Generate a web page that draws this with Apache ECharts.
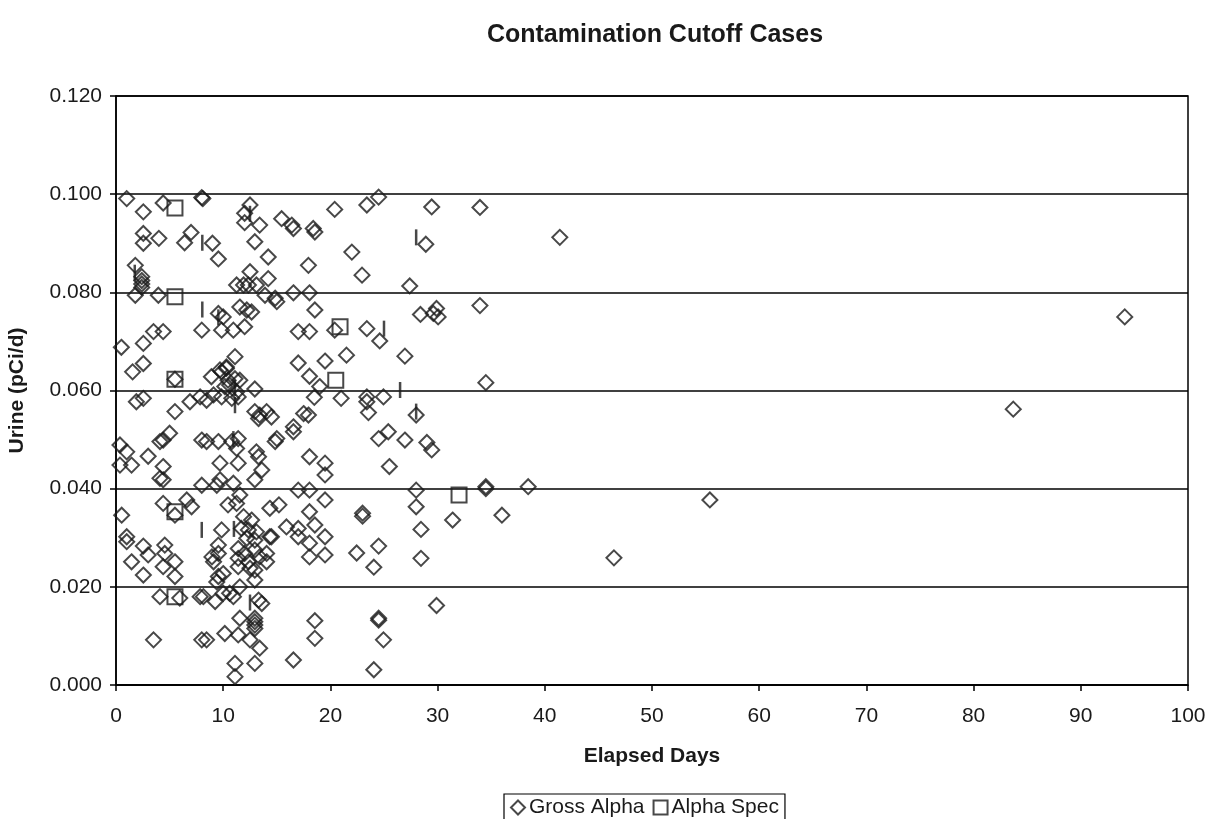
<!DOCTYPE html>
<html>
<head>
<meta charset="utf-8">
<script src="https://cdn.jsdelivr.net/npm/echarts@6/dist/echarts.min.js"></script>
<style>
html,body{margin:0;padding:0;background:#fff;}
#chart{width:1205px;height:819px;}
</style>
</head>
<body>
<div id="chart"></div>
<script>
// ---- data ----
const xTicks = [0,10,20,30,40,50,60,70,80,90,100];
const yTicks = [0.000,0.020,0.040,0.060,0.080,0.100,0.120];

const grossAlpha = [
[1.0,0.0991],[2.55,0.0964],[4.4,0.0982],[8.0,0.0993],[8.1,0.0991],[12.5,0.0978],[12.0,0.0961],[12.0,0.0942],[13.4,0.0937],
[2.55,0.0920],[2.55,0.0900],[4.0,0.0910],[7.0,0.0922],[6.4,0.0901],[9.0,0.0900],[9.55,0.0868],[12.95,0.0903],[14.2,0.0872],
[1.8,0.0855],[2.4,0.0832],[2.4,0.0824],[2.4,0.0817],[2.4,0.0810],[1.8,0.0794],[3.95,0.0794],[12.5,0.0842],[14.2,0.0828],
[11.25,0.0815],[11.9,0.0815],[12.35,0.0815],[13.1,0.0815],[13.9,0.0794],[14.85,0.0788],[11.55,0.0770],[12.2,0.0764],[12.65,0.0760],
[9.55,0.0757],[10.0,0.0750],[3.5,0.0720],[4.4,0.0720],[2.55,0.0696],[0.5,0.0688],[8.0,0.0723],[9.85,0.0723],[10.95,0.0723],[12.0,0.0730],
[2.55,0.0655],[1.55,0.0638],[5.5,0.0623],[8.9,0.0628],[9.85,0.0638],[10.3,0.0648],[11.1,0.0669],
[9.7,0.0642],[10.3,0.0645],[10.45,0.0621],[11.1,0.0624],[11.55,0.0621],[10.15,0.0608],[10.6,0.0611],[11.25,0.0597],[11.4,0.0587],[9.85,0.0587],[10.8,0.0584],
[12.95,0.0603],[1.9,0.0577],[2.55,0.0584],[5.5,0.0557],[6.9,0.0577],[7.85,0.0587],[8.45,0.0580],[9.1,0.0591],
[12.95,0.0557],[13.4,0.0550],[14.05,0.0557],[14.5,0.0546],[13.3,0.0543],
[0.37,0.0489],[1.0,0.0475],[0.37,0.0448],[1.45,0.0448],[3.0,0.0466],[4.1,0.0496],[4.4,0.0499],[5.0,0.0513],[4.4,0.0445],[4.1,0.0421],[4.4,0.0418],
[8.0,0.0499],[8.45,0.0496],[9.55,0.0496],[10.8,0.0496],[11.4,0.0502],[11.25,0.0482],[13.1,0.0475],[14.85,0.0496],[9.7,0.0452],[11.4,0.0452],
[13.3,0.0465],[13.6,0.0438],[12.95,0.0418],[9.7,0.0418],[10.95,0.0411],[8.0,0.0407],[9.4,0.0407],[11.55,0.0387],
[4.4,0.0370],[6.6,0.0377],[7.05,0.0363],[5.5,0.0346],[0.53,0.0346],[10.45,0.0367],[11.25,0.0370],[14.35,0.0360],[15.2,0.0367],
[1.0,0.0302],[1.0,0.0292],[1.45,0.0251],[2.55,0.0283],[3.0,0.0265],[2.55,0.0224],[4.55,0.0285],[4.55,0.0268],[4.4,0.0241],[5.5,0.0251],[5.5,0.0221],
[9.85,0.0316],[11.9,0.0343],[12.65,0.0336],[11.7,0.0319],[12.35,0.0316],[13.1,0.0312],[12.2,0.0299],[12.95,0.0295],[14.35,0.0302],
[9.55,0.0285],[9.55,0.0268],[8.95,0.0261],[9.1,0.0251],
[11.4,0.0278],[11.4,0.0258],[12.0,0.0268],[12.95,0.0275],[13.4,0.0261],[14.05,0.0268],[14.05,0.0251],[12.35,0.0251],[12.5,0.0238],[12.95,0.0234],[11.4,0.0241],
[9.55,0.0221],[10.0,0.0227],[9.4,0.0210],[12.95,0.0214],[10.6,0.0187],[11.55,0.0200],[9.25,0.0170],[13.3,0.0173],[13.6,0.0166],
[4.1,0.0180],[5.95,0.0177],[7.85,0.0180],[8.15,0.0180],[10.0,0.0187],[10.95,0.0180],
[12.95,0.0136],[12.95,0.0129],[12.95,0.0122],[12.95,0.0115],[11.55,0.0136],[3.5,0.0092],[8.0,0.0092],[8.45,0.0092],[10.15,0.0105],[11.4,0.0102],
[12.5,0.0092],[13.4,0.0075],[11.1,0.0044],[11.1,0.0017],[12.95,0.0044],
[15.45,0.0950],[16.4,0.0937],[16.55,0.0930],[18.4,0.0930],[18.55,0.0923],[20.4,0.0969],[23.4,0.0978],[24.5,0.0994],[29.45,0.0974],
[17.95,0.0855],[22.0,0.0882],[22.95,0.0835],[28.9,0.0898],[27.4,0.0813],[16.55,0.0799],[18.05,0.0799],[15.0,0.0781],[18.55,0.0764],
[17.0,0.0720],[18.05,0.0720],[20.4,0.0723],[23.4,0.0726],[24.6,0.0701],[28.4,0.0755],[29.6,0.0757],[29.9,0.0767],[30.05,0.0750],
[33.95,0.0973],[33.95,0.0773],[41.4,0.0912],
[17.0,0.0656],[19.5,0.0660],[21.5,0.0672],[26.95,0.0670],[18.05,0.0629],[19.0,0.0608],[18.5,0.0586],[21.0,0.0584],[23.4,0.0587],[23.4,0.0577],
[24.95,0.0587],[23.55,0.0555],[28.0,0.0550],[34.5,0.0616],[17.5,0.0553],[17.95,0.0550],[16.55,0.0526],[16.55,0.0516],[15.0,0.0502],
[25.4,0.0516],[24.5,0.0502],[26.95,0.0499],[29.0,0.0494],[29.45,0.0479],[18.05,0.0465],[19.5,0.0452],[19.5,0.0428],[25.5,0.0445],
[17.0,0.0397],[18.05,0.0397],[19.5,0.0377],[28.0,0.0397],[28.0,0.0363],[18.05,0.0353],[23.0,0.0350],
[15.9,0.0322],[17.0,0.0319],[17.0,0.0302],[18.55,0.0326],[18.05,0.0289],[19.5,0.0302],[14.5,0.0302],[18.05,0.0261],[19.5,0.0265],
[22.45,0.0269],[24.5,0.0283],[24.05,0.0240],[23.0,0.0344],[28.45,0.0317],[28.45,0.0258],[29.9,0.0162],
[18.55,0.0131],[18.55,0.0095],[24.5,0.0136],[24.5,0.0132],[24.95,0.0092],[16.55,0.0051],[24.05,0.0031],
[31.4,0.0336],[36.0,0.0346],[34.5,0.0404],[34.5,0.0400],[38.45,0.0404],
[46.45,0.0259],[55.4,0.0377],[83.7,0.0562],[94.1,0.0750]
];

const alphaSpec = [
[5.5,0.0972],[5.5,0.0791],[5.5,0.0623],[5.5,0.0353],[5.5,0.0180],[20.9,0.0730],[20.5,0.0621],[32.0,0.0387]
];

const barMarks = [
[12.5,0.0960],[1.75,0.0840],[8.05,0.0901],[8.05,0.0765],[9.55,0.0749],[11.1,0.0605],[11.1,0.0570],
[10.95,0.0501],[8.0,0.0316],[11.0,0.0318],[12.5,0.0168],[28.0,0.0912],[25.0,0.0726],[26.5,0.0601],[28.0,0.0557]
];

// ---- chart ----
const FONT = '"Liberation Sans", Arial, sans-serif';
const INK = '#1a1a1a';
const chart = echarts.init(document.getElementById('chart'), null, {renderer:'canvas'});
chart.setOption({
  animation:false,
  backgroundColor:'#fff',
  title:{
    text:'Contamination Cutoff Cases',
    left:650, textAlign:'center', top:18,
    textStyle:{fontFamily:FONT,fontSize:25,fontWeight:'bold',color:INK}
  },
  legend:{
    data:[{name:'Gross Alpha',icon:'diamond'},{name:'Alpha Spec',icon:'rect'}],
    left:504, top:794,
    orient:'horizontal',
    borderColor:'#000', borderWidth:1.2,
    padding:[3,6,3,6],
    itemGap:8, itemWidth:14, itemHeight:14,
    textStyle:{fontFamily:FONT,fontSize:21,color:INK,padding:[0,0,0,-1]}
  },
  grid:{left:116,right:17,top:96,bottom:134,containLabel:false,outerBoundsMode:'none',show:true,borderColor:'#000',borderWidth:1.5,backgroundColor:'transparent'},
  xAxis:{
    type:'value', min:xTicks[0], max:xTicks[xTicks.length-1], interval:10,
    name:'Elapsed Days', nameLocation:'middle', nameGap:61,
    nameTextStyle:{fontFamily:FONT,fontSize:21,fontWeight:'bold',color:INK},
    axisLine:{show:true,lineStyle:{color:'#000',width:1.5}},
    axisTick:{show:true,inside:false,length:6,lineStyle:{color:'#000',width:1.5}},
    axisLabel:{fontFamily:FONT,fontSize:21,color:INK,margin:21},
    splitLine:{show:false}
  },
  yAxis:{
    type:'value', min:yTicks[0], max:yTicks[yTicks.length-1], interval:0.02,
    name:'Urine (pCi/d)', nameLocation:'middle', nameGap:88, nameRotate:90,
    nameTextStyle:{fontFamily:FONT,fontSize:21,fontWeight:'bold',color:INK},
    axisLine:{show:true,lineStyle:{color:'#000',width:1.5}},
    axisTick:{show:true,inside:false,length:6,lineStyle:{color:'#000',width:1.5}},
    axisLabel:{fontFamily:FONT,fontSize:21,color:INK,margin:14,formatter:v=>v.toFixed(3)},
    splitLine:{show:true,lineStyle:{color:'#000',width:1.5}}
  },
  series:[
    {
      name:'Gross Alpha', type:'scatter', data:grossAlpha,
      symbol:'diamond', symbolSize:15,
      itemStyle:{color:'rgba(0,0,0,0)',borderColor:INK,borderWidth:2}
    },
    {
      name:'Alpha Spec', type:'scatter', data:alphaSpec,
      symbol:'rect', symbolSize:15,
      itemStyle:{color:'rgba(0,0,0,0)',borderColor:INK,borderWidth:2}
    },
    {
      name:'Marks', type:'scatter', data:barMarks,
      symbol:'rect', symbolSize:[2.5,16],
      itemStyle:{color:INK}
    }
  ]
});
</script>
</body>
</html>
